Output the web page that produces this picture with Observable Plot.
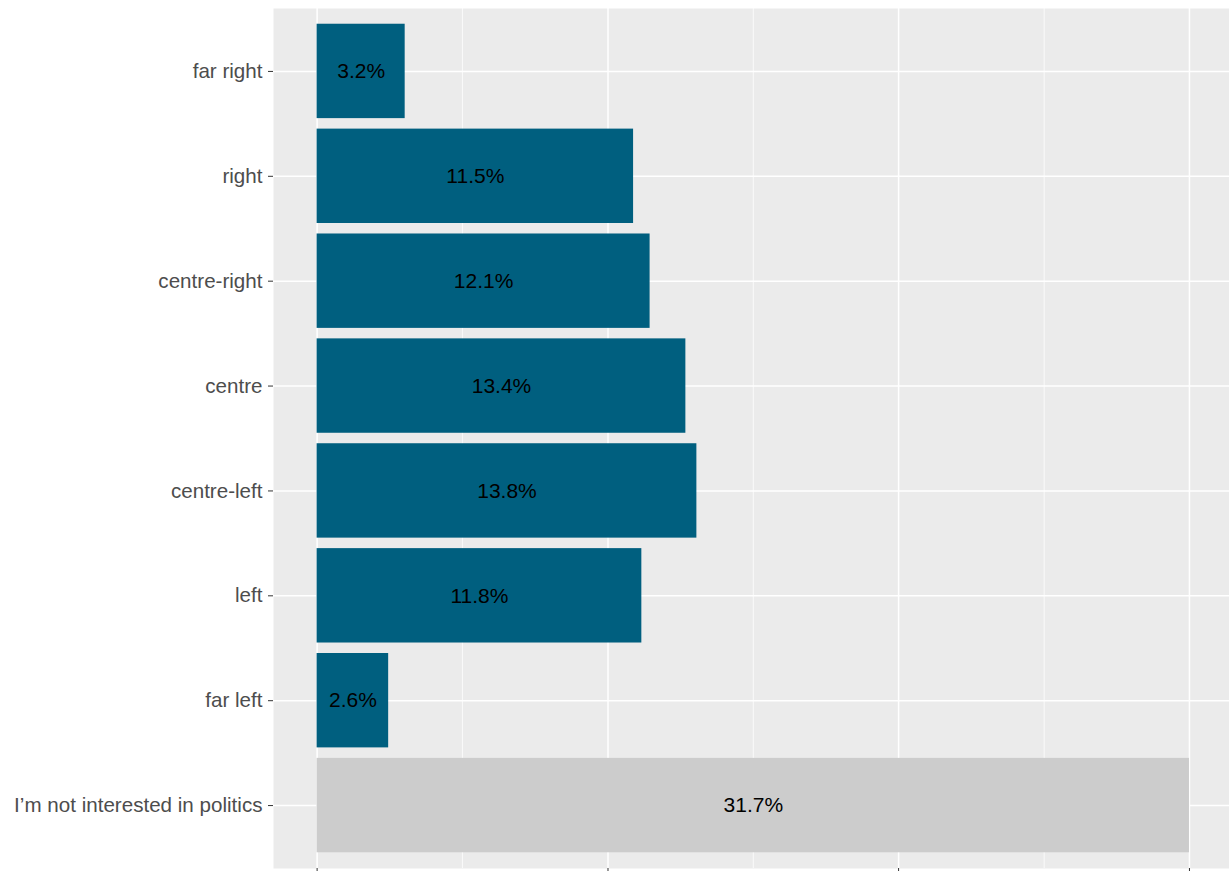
<!DOCTYPE html>
<html>
<head>
<meta charset="utf-8">
<script src="https://cdn.jsdelivr.net/npm/d3@7"></script>
<script src="https://cdn.jsdelivr.net/npm/@observablehq/plot@0.6"></script>
<style>
  html, body { margin: 0; padding: 0; background: #fff; overflow: hidden; }
  svg { display: block; }
</style>
</head>
<body>
<div id="chart"></div>
<script>
const categories = ["far right", "right", "centre-right", "centre", "centre-left", "left", "far left", "I\u2019m not interested in politics"];
const values = [3.2, 11.5, 12.1, 13.4, 13.8, 11.8, 2.6, 31.7];
const groups = ["placed", "placed", "placed", "placed", "placed", "placed", "placed", "not interested"];
const majorTicks = [0, 10.57, 21.13, 31.7];
const minorTicks = [5.28, 15.85, 26.42];

const data = categories.map((c, i) => ({category: c, value: values[i], group: groups[i]}));

const chart = Plot.plot({
  width: 1229,
  height: 871,
  marginLeft: 273,
  marginRight: 0,
  marginTop: 8,
  marginBottom: 3,
  style: {fontFamily: "'Liberation Sans', Arial, sans-serif", background: "#fff"},
  x: {domain: [-1.585, 33.155], axis: null},
  y: {domain: categories, paddingInner: 0.1, paddingOuter: 0.15, round: false, label: null, axis: null},
  color: {domain: ["placed", "not interested"], range: ["#005F7F", "#CCCCCC"]},
  marks: [
    Plot.frame({fill: "#EBEBEB", stroke: null}),
    Plot.ruleX(minorTicks, {stroke: "white", strokeWidth: 0.75}),
    Plot.ruleX(majorTicks, {stroke: "white", strokeWidth: 1.5}),
    Plot.gridY({stroke: "white", strokeOpacity: 1, strokeWidth: 1.5}),
    Plot.barX(data, {y: "category", x: "value", fill: "group"}),
    Plot.text(data, {y: "category", x: d => d.value / 2, text: d => d.value.toFixed(1) + "%", fill: "black", fontSize: 21}),
    Plot.axisY({tickSize: 5, tickPadding: 6, fontSize: 20.6, color: "#4D4D4D", stroke: "#333333"}),
    Plot.axisX({ticks: majorTicks, tickSize: 3, tickFormat: () => "", stroke: "#333333", label: null})
  ]
});
document.getElementById("chart").append(chart);
</script>
</body>
</html>
